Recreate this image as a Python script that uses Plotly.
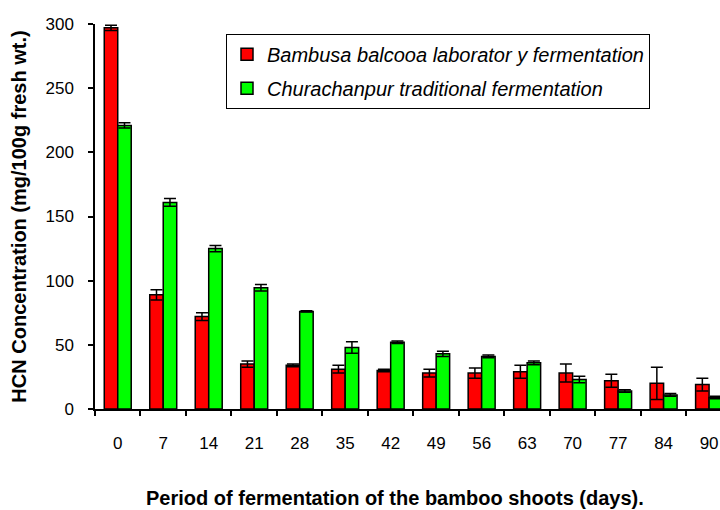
import plotly.graph_objects as go

days = ["0", "7", "14", "21", "28", "35", "42", "49", "56", "63", "70", "77", "84", "90"]
lab_vals = [297, 89, 72, 35, 34, 31, 30, 28, 28, 29, 28, 22, 20, 19]
lab_err = [2, 4, 3, 2.5, 1, 3, 1, 3, 4, 5, 7, 5, 12.5, 5]
trad_vals = [221, 161, 125, 94.5, 76, 48, 52, 43, 41, 36, 23, 14, 11, 9]
trad_err = [2, 3, 2.5, 2.5, 0.5, 4.5, 1, 2, 1, 1.5, 2.5, 1, 1, 1]

FONT = "Arial, Liberation Sans, sans-serif"

fig = go.Figure()
fig.add_trace(go.Bar(
    x=days, y=lab_vals, name="Bambusa balcooa laborator y fermentation",
    marker=dict(color="#ff0000", line=dict(color="black", width=1.5)),
    error_y=dict(type="data", array=lab_err, color="black", thickness=1.5, width=6),
    legendgroup="a",
))
fig.add_trace(go.Bar(
    x=days, y=trad_vals, name="Churachanpur traditional fermentation",
    marker=dict(color="#00ff00", line=dict(color="black", width=1.5)),
    error_y=dict(type="data", array=trad_err, color="black", thickness=1.5, width=6),
    legendgroup="b",
))

fig.update_layout(
    width=720, height=510,
    margin=dict(l=95, r=0, t=24, b=101),
    paper_bgcolor="white", plot_bgcolor="white",
    barmode="group", bargap=0.407, bargroupgap=0,
    font=dict(family=FONT, color="black", size=17),
    legend=dict(
        x=0.2096, y=0.975, xanchor="left", yanchor="top",
        bordercolor="black", borderwidth=1, bgcolor="white",
        font=dict(family=FONT, size=20, style="italic"),
        traceorder="grouped", tracegroupgap=5,
    ),
    xaxis=dict(
        type="category", range=[-0.5, 13.24], automargin=False,
        showline=True, linecolor="black", linewidth=1.5,
        ticks="outside", ticklen=5, tickwidth=1.5, tickcolor="black",
        tickson="boundaries", ticklabelstandoff=18,
        tickfont=dict(size=17), showgrid=False, zeroline=False,
    ),
    yaxis=dict(
        range=[0, 300], tickvals=[0, 50, 100, 150, 200, 250, 300],
        automargin=False,
        showline=True, linecolor="black", linewidth=1.5,
        ticks="outside", ticklen=5, tickwidth=1.5, tickcolor="black",
        ticklabelstandoff=11, tickfont=dict(size=17),
        showgrid=False, zeroline=False,
    ),
    annotations=[
        dict(
            text="<b>Period of fermentation of the bamboo shoots (days).</b>",
            xref="paper", yref="paper", x=0.48, y=-0.231,
            xanchor="center", yanchor="middle", showarrow=False,
            font=dict(size=20),
        ),
        dict(
            text="<b>HCN Concentration (mg/100g fresh wt.)</b>",
            xref="paper", yref="paper", x=-0.123, y=0.5, textangle=-90,
            xanchor="center", yanchor="middle", showarrow=False,
            font=dict(size=20),
        ),
    ],
)

fig.write_html("out.html", config={"displayModeBar": False},
               post_script="document.body.style.margin='0';")
